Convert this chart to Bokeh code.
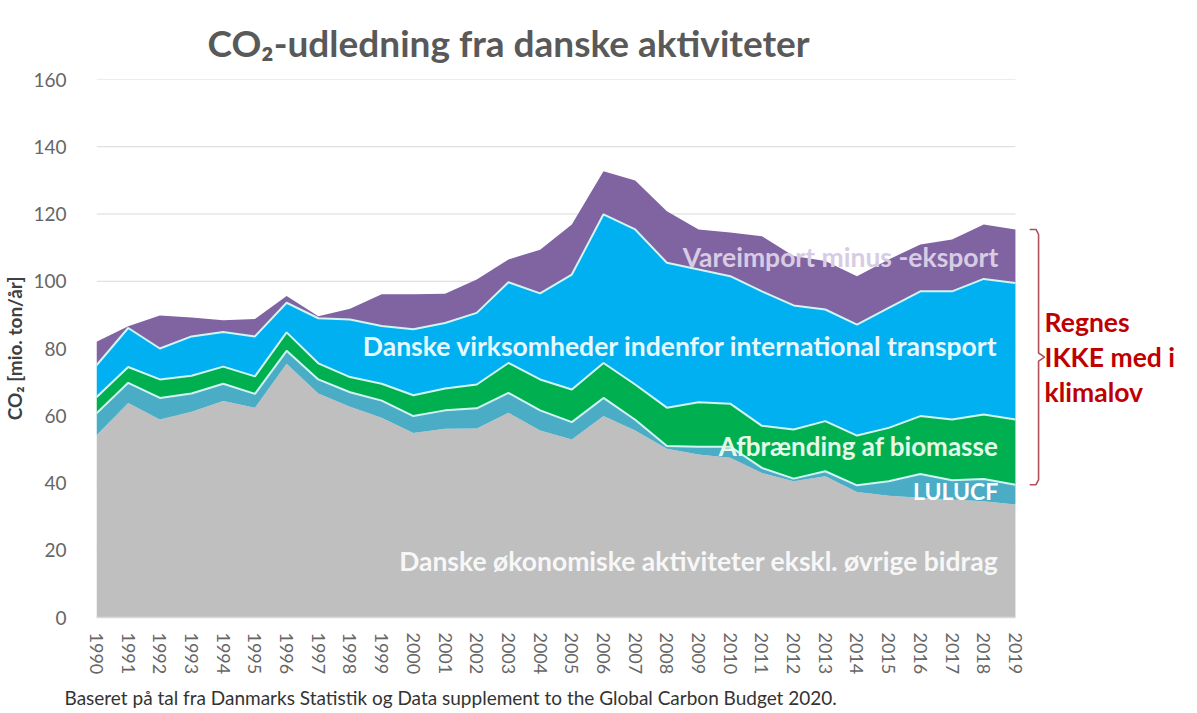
from bokeh.plotting import figure
from bokeh.models import ColumnDataSource, Range1d, FixedTicker, Title
from bokeh.transform import stack
from bokeh.core.properties import value
from bokeh.embed import file_html
from bokeh.resources import INLINE

years = list(range(1990, 2020))
oekonomisk = [54.2, 63.8, 58.9, 61.2, 64.4, 62.4, 75.5, 66.6, 62.7, 59.4,
              54.9, 56.1, 56.2, 60.9, 55.6, 52.9, 59.9, 55.6, 50.2, 48.5,
              47.5, 43.0, 40.5, 42.0, 37.3, 36.2, 35.6, 35.1, 34.6, 33.6]
lulucf = [6.5, 6.0, 6.4, 5.4, 5.1, 4.1, 3.8, 4.2, 4.3, 5.1,
          5.0, 5.5, 6.0, 5.9, 6.0, 5.2, 5.4, 3.2, 0.8, 2.3,
          3.3, 1.5, 0.8, 1.5, 2.0, 4.3, 7.1, 5.7, 6.6, 5.9]
biomasse = [4.8, 4.7, 5.5, 5.3, 5.1, 5.2, 5.5, 4.8, 4.5, 5.0,
            6.2, 6.5, 7.1, 8.9, 9.2, 9.7, 10.4, 10.5, 11.4, 13.2,
            12.8, 12.5, 14.6, 14.9, 14.8, 15.9, 17.2, 18.1, 19.2, 19.4]
transport = [9.5, 11.6, 9.2, 11.7, 10.3, 11.9, 8.8, 13.4, 17.1, 17.2,
             19.6, 19.5, 21.3, 24.0, 25.6, 34.2, 44.2, 46.1, 43.1, 39.5,
             37.9, 40.0, 36.9, 33.2, 33.0, 35.7, 37.1, 38.1, 40.3, 40.6]
vareimport = [7.0, 0.5, 9.8, 5.6, 3.5, 5.2, 2.0, 0.6, 3.2, 9.4,
              10.4, 8.7, 9.9, 6.8, 13.0, 14.9, 12.8, 14.6, 15.3, 11.9,
              13.0, 16.4, 14.7, 14.4, 14.4, 14.4, 13.9, 15.4, 16.2, 15.9]
y_ticks = [0, 20, 40, 60, 80, 100, 120, 140, 160]

series = ["oekonomisk", "lulucf", "biomasse", "transport", "vareimport"]
colors = ["#BFBFBF", "#4BACC6", "#00B050", "#00B0F0", "#8064A2"]

src = ColumnDataSource(dict(year=years, oekonomisk=oekonomisk, lulucf=lulucf,
                            biomasse=biomasse, transport=transport, vareimport=vareimport))

FONT = "Lato"

p = figure(width=1183, frame_width=1091, frame_height=538,
           x_range=Range1d(1990, 2024.43), y_range=Range1d(0, 160),
           output_backend="svg", toolbar_location=None,
           min_border_left=92, min_border_right=0, min_border_top=79, min_border_bottom=80)
p.outline_line_color = None
p.background_fill_color = "white"
p.xgrid.visible = False
p.ygrid.visible = False

# gridlines limited to the data span
gl = [t for t in y_ticks if t > 0]
p.segment(x0=[years[0]] * len(gl), x1=[years[-1]] * len(gl), y0=gl, y1=gl,
          line_color="#D9D9D9", line_width=1.2)

p.varea_stack(stackers=series, x="year", color=colors, source=src)
for i in (2, 3, 4):
    p.line(x="year", y=stack(*series[:i]), source=src, line_color="#D2F4F2", line_width=2)

# axes
p.yaxis.ticker = FixedTicker(ticks=y_ticks)
p.yaxis.axis_line_color = None
p.yaxis.major_tick_line_color = None
p.yaxis.minor_tick_line_color = None
p.yaxis.major_label_text_font = FONT
p.yaxis.major_label_text_font_size = "19px"
p.yaxis.major_label_text_color = "#666666"
p.yaxis.major_label_standoff = 24
p.yaxis.axis_label = "CO\u2082 [mio. ton/år]"
p.yaxis.axis_label_text_font = FONT
p.yaxis.axis_label_text_font_size = "19px"
p.yaxis.axis_label_text_font_style = "bold"
p.yaxis.axis_label_text_color = "#404040"
p.yaxis.axis_label_standoff = 4

p.xaxis.ticker = FixedTicker(ticks=years)
p.xaxis.bounds = (years[0], years[-1])
p.xaxis.axis_line_color = "#D9D9D9"
p.xaxis.axis_line_width = 1.5
p.xaxis.major_tick_line_color = None
p.xaxis.minor_tick_line_color = None
p.xaxis.major_label_orientation = "vertical"
p.xaxis.major_label_text_font = FONT
p.xaxis.major_label_text_font_size = "18px"
p.xaxis.major_label_text_color = "#666666"
p.xaxis.major_label_standoff = 9

# in-chart labels
lab_x = [2018.46] * 5
lab_y = [107.1, 80.6, 50.9, 37.5, 16.7]
lab_t = ["Vareimport minus -eksport",
         "Danske virksomheder indenfor international transport",
         "Afbrænding af biomasse", "LULUCF",
         "Danske økonomiske aktiviteter ekskl. øvrige bidrag"]
lab_c = ["#D8CCE4", "#E8F8FF", "#E6F8E8", "#FFFFFF", "#F7F7F7"]
lab_s = ["26.5px", "26.5px", "26px", "23px", "26.5px"]
for x, y, t, c, s in zip(lab_x, lab_y, lab_t, lab_c, lab_s):
    p.text(x=[x], y=[y], text=[t], text_align="right", text_baseline="middle",
           text_font=value(FONT), text_font_style="bold", text_font_size=s, text_color=c)

# bracket
top = oekonomisk[-1] + lulucf[-1] + biomasse[-1] + transport[-1] + vareimport[-1]
bot = oekonomisk[-1] + lulucf[-1]
mid = (top + bot) / 2
xv, h = 2019.73, 2019.45
p.line(x=[h, xv - 0.08, xv, xv, xv + 0.19, xv, xv, xv - 0.08, h],
       y=[top, top, top - 1.5, mid + 1.2, mid, mid - 1.2, bot + 1.5, bot, bot],
       line_color="#B0505A", line_width=1.6)
p.text(x=[2019.92] * 3, y=[mid + 10.4, mid, mid - 10.4], text=["Regnes", "IKKE med i", "klimalov"],
       text_align="left", text_baseline="middle", text_font=value(FONT), text_font_style="bold",
       text_font_size="26.5px", text_color="#C00000")

# title and footer
p.title = Title(text="CO\u2082-udledning fra danske aktiviteter", align="left", offset=111,
                standoff=30, text_font=FONT, text_font_size="37px", text_font_style="bold",
                text_color="#595959")
p.add_layout(Title(text="Baseret på tal fra Danmarks Statistik og Data supplement to the Global Carbon Budget 2020.",
                   align="left", offset=-32, standoff=12, text_font=FONT, text_font_size="19px",
                   text_font_style="normal", text_color="#333333"), "below")

open("out.html", "w").write(file_html(p, INLINE))
